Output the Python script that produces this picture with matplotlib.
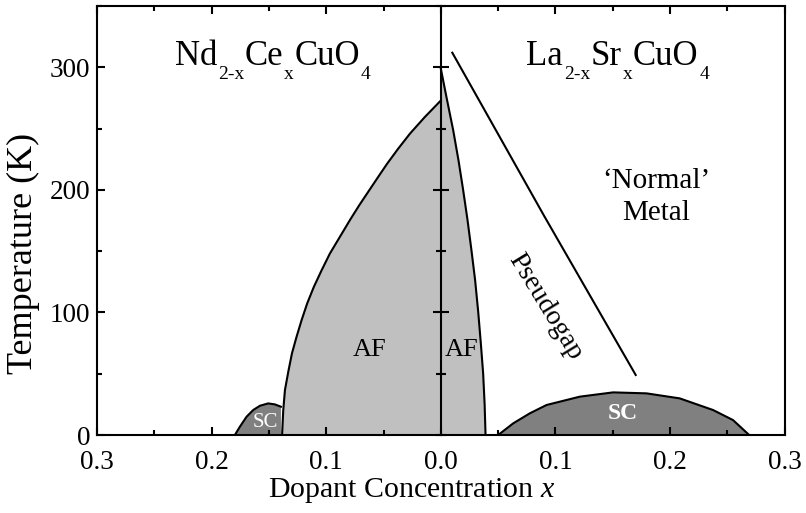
import numpy as np
import matplotlib.pyplot as plt
from matplotlib.ticker import MultipleLocator, FixedLocator, FixedFormatter

plt.rcParams['font.family'] = ['Liberation Serif', 'DejaVu Serif']
plt.rcParams['mathtext.fontset'] = 'custom'
plt.rcParams['mathtext.rm'] = 'Liberation Serif'
plt.rcParams['mathtext.it'] = 'Liberation Serif:italic'

# electron doped side (Nd2-xCexCuO4), concentration given as positive x
ncco_af_x = [0.0, 0.014, 0.027, 0.0372, 0.0468, 0.0547, 0.0625, 0.0712, 0.0794, 0.0881,
             0.0968, 0.104, 0.1108, 0.1166, 0.1215, 0.1259, 0.1299, 0.1331, 0.136, 0.1375, 0.1385]
ncco_af_t = [273, 259.5, 245.9, 233.7, 221.5, 210.6, 199.7, 187.5, 175.3, 161.7,
             148.1, 134.5, 120.9, 107.4, 93.7, 80.1, 66.6, 51.6, 36.7, 20, 0]
ncco_sc_x = [0.1797, 0.1753, 0.1695, 0.1637, 0.1578, 0.1506, 0.1448, 0.1395]
ncco_sc_t = [0, 6.8, 14.9, 20.4, 23.9, 25.8, 25, 23.1]

# hole doped side (La2-xSrxCuO4)
lsco_af_x = [0.0, 0.0049, 0.0108, 0.0154, 0.0195, 0.0233, 0.0267, 0.0299, 0.0326, 0.0349,
             0.0369, 0.0382, 0.039]
lsco_af_t = [299, 275.8, 248.6, 224.2, 199.7, 175.3, 150.8, 126.4, 100.5, 74.7, 50.3, 25, 0]
lsco_sc_x = [0.05, 0.0631, 0.0776, 0.0922, 0.1212, 0.1503, 0.1794, 0.2084, 0.2375, 0.2549, 0.269]
lsco_sc_t = [0, 9.5, 17.7, 24.5, 31.3, 34.8, 34.0, 29.9, 20.4, 12.2, 0]
pseudogap_x = [0.010, 0.090, 0.170]
pseudogap_t = [312, 179, 49]

xtick_pos = [-0.3, -0.2, -0.1, 0.0, 0.1, 0.2, 0.3]
xtick_labels = ['0.3', '0.2', '0.1', '0.0', '0.1', '0.2', '0.3']

af_color = '#c0c0c0'
sc_color = '#808080'


def formula(ax, x, y, parts, size_main, size_sub, drop):
    # chemical formula with deep subscripts, pieces chained left to right
    prev = ax.text(x, y, parts[0][0], fontsize=size_main, ha='left', va='baseline')
    for s, is_sub in parts[1:]:
        prev = ax.annotate(s, xy=(1, y), xycoords=(prev, 'data'),
                           xytext=(0.5, -drop if is_sub else 0), textcoords='offset points',
                           fontsize=size_sub if is_sub else size_main,
                           ha='left', va='baseline')


fig = plt.figure(figsize=(8.06, 5.13), dpi=100)
ax = fig.add_axes([0.1203, 0.152, 0.8533, 0.836])

nx = -np.array(ncco_af_x)
ax.fill(np.r_[nx, 0], np.r_[ncco_af_t, 0], color=af_color, lw=0, zorder=1)
ax.plot(nx, ncco_af_t, color='k', lw=1.5, zorder=3)
sx = -np.array(ncco_sc_x)
ax.fill(np.r_[sx, sx[-1]], np.r_[ncco_sc_t, 0], color=sc_color, lw=0, zorder=1)
ax.plot(sx, ncco_sc_t, color='k', lw=1.5, zorder=3)

ax.fill(np.r_[lsco_af_x, 0], np.r_[lsco_af_t, 0], color=af_color, lw=0, zorder=1)
ax.plot(lsco_af_x, lsco_af_t, color='k', lw=1.5, zorder=3)
ax.fill(lsco_sc_x, lsco_sc_t, color=sc_color, lw=0, zorder=1)
ax.plot(lsco_sc_x, lsco_sc_t, color='k', lw=1.5, zorder=3)
ax.plot(pseudogap_x, pseudogap_t, color='k', lw=1.5, zorder=3)

ax.set_xlim(-0.3, 0.3)
ax.set_ylim(0, 350)
ax.xaxis.set_major_locator(FixedLocator(xtick_pos))
ax.xaxis.set_major_formatter(FixedFormatter(xtick_labels))
ax.xaxis.set_minor_locator(MultipleLocator(0.05))
ax.yaxis.set_major_locator(FixedLocator([0, 100, 200, 300]))
ax.yaxis.set_minor_locator(MultipleLocator(50))
ax.tick_params(which='both', direction='in', top=True, right=True, width=1.5, labelsize=19.5)
ax.tick_params(axis='x', pad=10.5)
ax.tick_params(axis='y', pad=5)
ax.tick_params(which='major', length=6)
ax.tick_params(which='minor', length=3.5)
for s in ax.spines.values():
    s.set_linewidth(1.5)

# central temperature axis at x = 0 with crossing ticks
ax2 = ax.twinx()
ax2.set_ylim(ax.get_ylim())
for s in ['top', 'bottom', 'right']:
    ax2.spines[s].set_visible(False)
ax2.spines['left'].set_visible(True)
ax2.spines['left'].set_position(('data', 0))
ax2.spines['left'].set_linewidth(1.5)
ax2.yaxis.set_ticks_position('left')
ax2.yaxis.set_major_locator(FixedLocator([100, 200, 300]))
ax2.yaxis.set_minor_locator(MultipleLocator(50))
ax2.tick_params(which='both', direction='inout', width=1.5, labelleft=False, labelright=False)
ax2.tick_params(which='major', length=11)
ax2.tick_params(which='minor', length=7)

ax.set_xlabel('Dopant Concentration $x$', fontsize=21.5)
ax.xaxis.set_label_coords(0.457, -0.095)
ax.set_ylabel('Temperature (K)', fontsize=26)
ax.yaxis.set_label_coords(-0.083, 0.424)

formula(ax, -0.232, 302, [('Nd', 0), ('2-x', 1), ('Ce', 0), ('x', 1), ('CuO', 0), ('4', 1)], 25, 14, 10)
formula(ax, 0.0747, 302, [('La', 0), ('2-x', 1), ('Sr', 0), ('x', 1), ('CuO', 0), ('4', 1)], 25, 14, 10)

ax.text(-0.062, 69, 'AF', fontsize=19, ha='center', va='center', zorder=4)
ax.text(0.018, 69, 'AF', fontsize=19, ha='center', va='center', zorder=4)
ax.text(-0.153, 10, 'SC', fontsize=15, color='white', ha='center', va='center', zorder=4)
ax.text(0.159, 17.5, 'SC', fontsize=17, color='white', fontweight='bold',
        ha='center', va='center', zorder=4)
ax.text(0.188, 194, '\u2018Normal\u2019\nMetal', fontsize=21, ha='center', va='center',
        multialignment='center', linespacing=1.3)
ax.text(0.091, 104.5, 'Pseudogap', fontsize=20, rotation=-58.5, ha='center', va='center')

fig.savefig('out.png', dpi=100)
